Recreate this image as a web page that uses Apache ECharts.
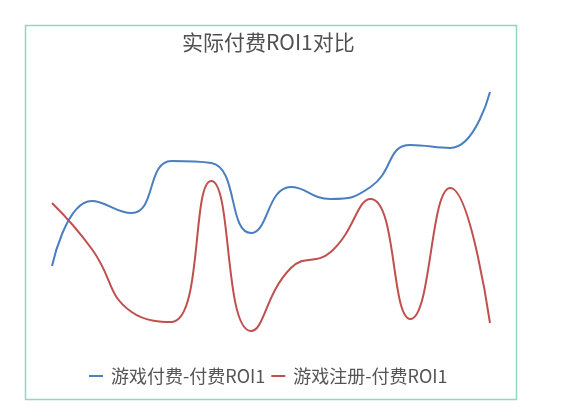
<!DOCTYPE html>
<html>
<head>
<meta charset="utf-8">
<script src="https://cdn.jsdelivr.net/npm/echarts@6/dist/echarts.min.js"></script>
<style>
    html, body { margin: 0; padding: 0; background: #fff; }
    #main { width: 561px; height: 420px; }
</style>
</head>
<body>
<div id="main"></div>
<script>
    // 日期（坐标轴隐藏）
    var days = ['1', '2', '3', '4', '5', '6', '7', '8', '9', '10', '11', '12'];
    // 游戏付费-付费ROI1
    var payRoi = [0.74, 1.39, 1.27, 1.79, 1.77, 1.07, 1.53, 1.41, 1.53, 1.95, 1.92, 2.48];
    // 游戏注册-付费ROI1
    var regRoi = [1.37, 0.91, 0.28, 0.18, 1.59, 0.09, 0.72, 0.88, 1.41, 0.21, 1.52, 0.17];
    var seriesNames = ['游戏付费-付费ROI1', '游戏注册-付费ROI1'];

    var chart = echarts.init(document.getElementById('main'));
    var option = {
        backgroundColor: '#fff',
        title: {
            text: '实际付费ROI1对比',
            left: 182,
            top: 32,
            padding: 0,
            textStyle: {
                fontFamily: 'Noto Sans CJK SC',
                fontSize: 21,
                fontWeight: 'normal',
                color: '#505050'
            }
        },
        graphic: [{
            type: 'rect',
            shape: { x: 25.5, y: 25.5, width: 491, height: 374 },
            style: { fill: 'none', stroke: '#93d5c6', lineWidth: 1.5 },
            silent: true
        }],
        legend: {
            data: seriesNames,
            left: 89,
            top: 367,
            padding: 0,
            icon: 'rect',
            itemGap: 6,
            itemWidth: 14,
            itemHeight: 2,
            textStyle: {
                fontFamily: 'Noto Sans CJK SC',
                fontSize: 18,
                color: '#555',
                padding: [0, 0, 0, 3]
            }
        },
        grid: {
            left: 52,
            right: 71,
            top: 80,
            bottom: 80
        },
        xAxis: {
            type: 'category',
            data: days,
            boundaryGap: false,
            show: false
        },
        yAxis: {
            type: 'value',
            min: 0,
            max: 2.6,
            show: false,
            splitLine: { show: false }
        },
        series: [{
            name: seriesNames[0],
            type: 'line',
            smooth: true,
            symbol: 'none',
            data: payRoi,
            lineStyle: { color: '#4a7ebf', width: 2 },
            itemStyle: { color: '#4a7ebf' }
        }, {
            name: seriesNames[1],
            type: 'line',
            smooth: true,
            symbol: 'none',
            data: regRoi,
            lineStyle: { color: '#c0504d', width: 2 },
            itemStyle: { color: '#c0504d' }
        }]
    };
    chart.setOption(option);
</script>
</body>
</html>
